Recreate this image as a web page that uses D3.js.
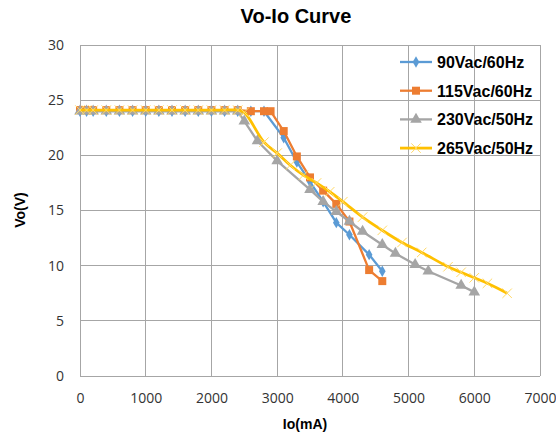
<!DOCTYPE html>
<html>
<head>
<meta charset="utf-8">
<script src="https://cdn.jsdelivr.net/npm/d3@7"></script>
<style>
  body { margin: 0; background: #fff; }
  text { font-family: "Liberation Sans", Arial, sans-serif; }
  .tick text { font-family: "Open Sans", "DejaVu Sans", sans-serif; }
</style>
</head>
<body>
<div id="chart"></div>
<script>
const seriesNames = ['90Vac/60Hz', '115Vac/60Hz', '230Vac/50Hz', '265Vac/50Hz'];
const seriesColors = ['#5B9BD5', '#ED7D31', '#A5A5A5', '#FFC000'];
const seriesMarkers = ['diamond', 'square', 'triangle', 'cross'];

// flat part, shared by every series
const flatIo = [0, 100, 200, 400, 600, 800, 1000, 1200, 1400, 1600, 1800, 2000, 2200, 2400];

const io90 = flatIo.concat([2600, 2800, 3100, 3300, 3500, 3700, 3900, 4100, 4400, 4600]);
const vo90 = [24.0, 24.0, 24.0, 24.0, 24.0, 24.0, 24.0, 24.0, 24.0, 24.0, 24.0, 24.0, 24.0, 24.0,
              24.0, 24.0, 21.6, 19.4, 17.6, 15.8, 13.9, 12.8, 11.0, 9.5];

const io115 = flatIo.concat([2600, 2800, 2900, 3100, 3300, 3500, 3700, 3900, 4100, 4400, 4600]);
const vo115 = [24.1, 24.1, 24.1, 24.1, 24.1, 24.1, 24.1, 24.1, 24.1, 24.1, 24.1, 24.1, 24.1, 24.1,
               24.0, 24.0, 24.0, 22.2, 19.9, 18.0, 16.8, 15.6, 14.0, 9.6, 8.6];

const io230 = flatIo.concat([2500, 2700, 3000, 3500, 3700, 3900, 4100, 4300, 4600, 4800, 5100, 5300, 5800, 6000]);
const vo230 = [24.0, 24.0, 24.0, 24.0, 24.0, 24.0, 24.0, 24.0, 24.0, 24.0, 24.0, 24.0, 24.0, 24.0,
               23.1, 21.3, 19.5, 16.9, 15.8, 14.9, 14.0, 13.1, 11.9, 11.1, 10.1, 9.5, 8.2, 7.6];

const io265 = flatIo.concat([2500, 2800, 3000, 3200, 3400, 3600, 3800, 4000, 4300, 4600, 4900, 5200, 5600, 5800, 6000, 6200, 6500]);
const vo265 = [24.1, 24.1, 24.1, 24.1, 24.1, 24.1, 24.1, 24.1, 24.1, 24.1, 24.1, 24.1, 24.1, 24.1,
               23.9, 21.2, 20.2, 19.1, 18.2, 17.5, 16.7, 15.8, 14.4, 13.2, 12.1, 11.2, 9.9, 9.4, 8.9, 8.4, 7.5];

const ioList = [io90, io115, io230, io265];
const voList = [vo90, vo115, vo230, vo265];
const smoothed = [false, false, false, true];

const xTicks = [0, 1000, 2000, 3000, 4000, 5000, 6000, 7000];
const yTicks = [0, 5, 10, 15, 20, 25, 30];

const width = 556, height = 437;
const margin = { top: 45, right: 16, bottom: 61, left: 80 };

const svg = d3.select('#chart').append('svg').attr('width', width).attr('height', height);

const x = d3.scaleLinear().domain([0, 7000]).range([margin.left, width - margin.right]);
const y = d3.scaleLinear().domain([0, 30]).range([height - margin.bottom, margin.top]);

// gridlines
svg.append('g').selectAll('line').data(xTicks).join('line')
  .attr('x1', d => x(d)).attr('x2', d => x(d))
  .attr('y1', y(0)).attr('y2', y(30))
  .attr('stroke', '#A6A6A6').attr('stroke-width', 1).attr('shape-rendering', 'crispEdges');
svg.append('g').selectAll('line').data(yTicks).join('line')
  .attr('x1', x(0)).attr('x2', x(7000))
  .attr('y1', d => y(d)).attr('y2', d => y(d))
  .attr('stroke', '#A6A6A6').attr('stroke-width', 1).attr('shape-rendering', 'crispEdges');

// axes (labels only)
const xAxis = svg.append('g').attr('transform', 'translate(0,' + y(0) + ')')
  .call(d3.axisBottom(x).tickValues(xTicks).tickFormat(d3.format('d')).tickSize(0).tickPadding(17));
const yAxis = svg.append('g').attr('transform', 'translate(' + x(0) + ',0)')
  .call(d3.axisLeft(y).tickValues(yTicks).tickSize(0).tickPadding(16));
[xAxis, yAxis].forEach(a => {
  a.select('.domain').remove();
  a.selectAll('text').style('font-size', '14px').attr('fill', '#333');
});

// series
function markerPath(type) {
  if (type === 'diamond') return d3.symbol().type(d3.symbolDiamond).size(38)();
  if (type === 'square') return d3.symbol().type(d3.symbolSquare).size(64)();
  if (type === 'triangle') return d3.symbol().type(d3.symbolTriangle).size(58)();
  return d3.symbol().type(d3.symbolTimes).size(60)();
}

for (let s = 0; s < 4; s++) {
  const pts = ioList[s].map((v, i) => [v, voList[s][i]]);
  const line = d3.line().x(d => x(d[0])).y(d => y(d[1]))
    .curve(smoothed[s] ? d3.curveCatmullRom.alpha(0.5) : d3.curveLinear);
  const g = svg.append('g');
  g.append('path').datum(pts).attr('d', line)
    .attr('fill', 'none').attr('stroke', seriesColors[s])
    .attr('stroke-width', s === 3 ? 2.8 : 2.3).attr('stroke-linejoin', 'round');
  const m = g.selectAll('path.m').data(pts).join('path').attr('class', 'm')
    .attr('transform', d => 'translate(' + x(d[0]) + ',' + y(d[1]) + ')')
    .attr('d', markerPath(seriesMarkers[s]));
  if (seriesMarkers[s] === 'cross') {
    m.attr('fill', 'none').attr('stroke', '#FFD966').attr('stroke-width', 1);
  } else {
    m.attr('fill', seriesColors[s]);
  }
}

// legend
const legend = svg.append('g');
seriesNames.forEach((name, i) => {
  const ly = 62 + i * 28.7;
  legend.append('line').attr('x1', 400).attr('x2', 432).attr('y1', ly).attr('y2', ly)
    .attr('stroke', seriesColors[i]).attr('stroke-width', i === 3 ? 2.8 : 2.3);
  const mk = legend.append('path').attr('transform', 'translate(416,' + ly + ')')
    .attr('d', markerPath(seriesMarkers[i]));
  if (seriesMarkers[i] === 'cross') mk.attr('fill', 'none').attr('stroke', '#FFD966').attr('stroke-width', 1);
  else mk.attr('fill', seriesColors[i]);
  legend.append('text').attr('x', 437).attr('y', ly + 6)
    .style('font-size', '16px').style('font-weight', 'bold').attr('fill', '#000').text(name);
});

// titles
svg.append('text').attr('x', 296).attr('y', 23).attr('text-anchor', 'middle')
  .style('font-size', '20px').style('font-weight', 'bold').text('Vo-Io Curve');
svg.append('text').attr('x', 305).attr('y', 429).attr('text-anchor', 'middle')
  .style('font-size', '14px').style('font-weight', 'bold').text('Io(mA)');
svg.append('text').attr('transform', 'translate(25,210) rotate(-90)').attr('text-anchor', 'middle')
  .style('font-size', '14px').style('font-weight', 'bold').text('Vo(V)');
</script>
</body>
</html>
